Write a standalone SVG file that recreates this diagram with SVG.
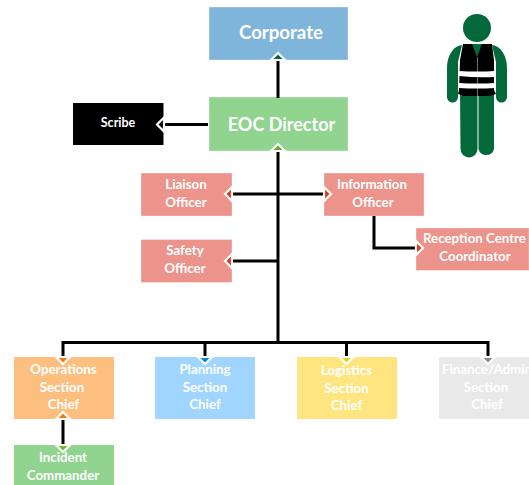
<svg xmlns="http://www.w3.org/2000/svg" width="529" height="485" viewBox="0 0 529 485">
<style>
text{font-family:"Lato","Carlito","Liberation Sans",sans-serif;font-weight:700;fill:#fff;text-anchor:middle}
.s{font-size:13.300px}
.l{font-size:18.600px}
.c{fill:none;stroke:#000;stroke-width:3}
.a{stroke:#fff;stroke-width:2.200;stroke-linejoin:miter}
.b{stroke:#fff;stroke-opacity:.35;stroke-width:1}
.g{fill:#04693a}
</style>
<rect width="529" height="485" fill="#fff"/>
<g id="corporate"><rect class="b" x="209" y="7" width="139" height="53" fill="#7fb5da"/><text class="l" x="281" y="39">Corporate</text></g>
<g id="eoc-director"><rect class="b" x="209" y="97" width="139" height="54" fill="#90d490"/><text x="281.500" y="131" style="font-size:18px">EOC Director</text></g>
<g id="scribe"><rect x="73" y="103" width="90.500" height="42" fill="#000"/><text x="118" y="127" style="font-size:12.500px">Scribe</text></g>
<g id="liaison-officer"><rect class="b" x="141" y="173" width="91" height="43" fill="#ec938c"/><text class="s" x="186" y="189">Liaison</text><text class="s" x="186" y="207">Officer</text></g>
<g id="information-officer"><rect class="b" x="324" y="173" width="100" height="43" fill="#ec938c"/><text class="s" x="372" y="189">Information</text><text class="s" x="373" y="207">Officer</text></g>
<g id="safety-officer"><rect class="b" x="141" y="239.500" width="91" height="43" fill="#ec938c"/><text class="s" x="185" y="255">Safety</text><text class="s" x="185" y="273">Officer</text></g>
<g id="reception-centre-coordinator"><rect class="b" x="416" y="228" width="113" height="42.500" fill="#ec938c"/><text class="s" x="474.500" y="243">Reception Centre</text><text class="s" x="475" y="261">Coordinator</text></g>
<g id="operations-section-chief"><rect x="14" y="357" width="100" height="62" fill="#fdbf80"/><text class="s" x="63.500" y="374">Operations</text><text class="s" x="62" y="392">Section</text><text class="s" x="63.500" y="409">Chief</text></g>
<g id="planning-section-chief"><rect x="155" y="357" width="100" height="62" fill="#9fd5ff"/><text class="s" x="205" y="374">Planning</text><text class="s" x="205" y="392">Section</text><text class="s" x="205" y="409">Chief</text></g>
<g id="logistics-section-chief"><rect x="297" y="357" width="100" height="62" fill="#ffe580"/><text class="s" x="346.500" y="375">Logistics</text><text class="s" x="346.500" y="393">Section</text><text class="s" x="346.500" y="410">Chief</text></g>
<g id="finance-admin-section-chief"><rect x="439" y="357" width="90" height="62" fill="#e9e9e9"/><text class="s" x="487" y="374">Finance/Admin</text><text class="s" x="486" y="392">Section</text><text class="s" x="487" y="409">Chief</text></g>
<g id="incident-commander"><rect x="14" y="445" width="100" height="40" fill="#90d490"/><text class="s" x="63" y="462">Incident</text><text class="s" x="63" y="480">Commander</text></g>
<g id="connectors">
<path class="c" d="M278 98V59"/>
<path class="c" d="M208 124.500H164"/>
<path class="c" d="M278 151V342"/>
<path class="c" d="M231 194H324"/>
<path class="c" d="M231 261H278"/>
<path class="c" d="M374 216V248H416"/>
<path class="c" d="M63 357V342.500H488V357"/>
<path class="c" d="M205 342.500V357"/>
<path class="c" d="M346.500 342.500V357"/>
<path class="c" d="M63 419V445"/>
<path class="a" fill="#04693a" d="M271 60L278 53L285 60Z"/>
<path class="a" fill="#000" d="M164 117.500L157 124.500L164 131.500Z"/>
<path class="a" fill="#5fae2e" d="M271 151L278 144L285 151Z"/>
<path class="a" fill="#e2381f" d="M232 187L225 194L232 201Z"/>
<path class="a" fill="#e2381f" d="M324 187L331 194L324 201Z"/>
<path class="a" fill="#e2381f" d="M232 254L225 261L232 268Z"/>
<path class="a" fill="#e2381f" d="M416 241L423 248L416 255Z"/>
<path class="a" fill="#f07a1c" d="M56 357L63 364L70 357Z"/>
<path class="a" fill="#0a86c9" d="M198 357L205 364L212 357Z"/>
<path class="a" fill="#e3d31c" d="M339.500 357L346.500 364L353.500 357Z"/>
<path class="a" fill="#8c8c8c" d="M481 357L488 364L495 357Z"/>
<path class="a" fill="#f07a1c" d="M56 419L63 412L70 419Z"/>
<path class="a" fill="#7ab32a" d="M56 445L63 452L70 445Z"/>
</g>
<g id="person">
<circle class="g" cx="477" cy="28" r="14"/>
<path class="g" d="M462 45C453 46 447 56 447 68V97A5 5 0 0 0 458 97V62L462 45Z"/>
<path class="g" d="M492 45C501 46 507 56 507 68V97A5 5 0 0 1 496 97V62L492 45Z"/>
<path class="g" d="M460 90H477.500V149A8.500 8.500 0 0 1 460.500 149Z"/>
<path class="g" d="M478.500 90H494V149A8 8 0 0 1 478.500 149Z"/>
<path class="g" d="M470 44H484L477 60Z"/>
<path fill="#000" d="M463 44H472L477 57L482 44H492L494 60V90L496 94L490 96H464L458 94L459 90L460 60Z"/>
<path fill="none" stroke="#888" stroke-width=".8" d="M477.500 57V96"/>
<path fill="#fff" d="M459 71Q477 72 495 71V77Q477 78 459 76Z"/>
<path fill="#fff" d="M459 83Q477 84 495 83V88Q477 89 459 88Z"/>
</g>
</svg>
